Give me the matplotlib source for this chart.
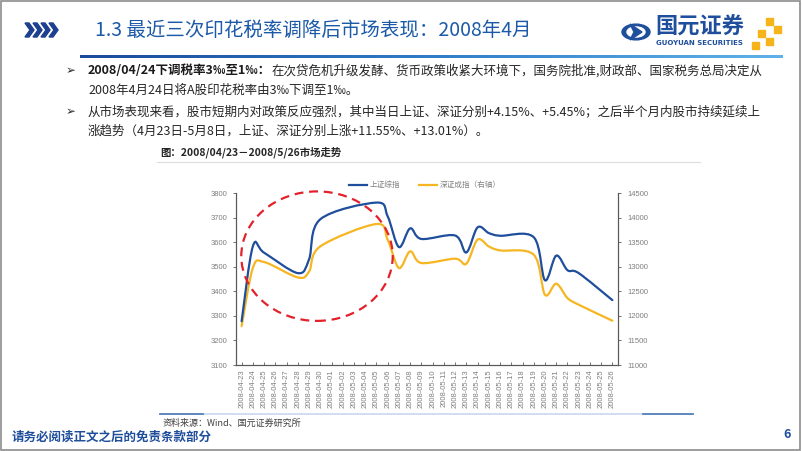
import numpy as np
import pandas as pd
import matplotlib
matplotlib.use('Agg')
import matplotlib.pyplot as plt
from matplotlib.path import Path
from matplotlib.patches import PathPatch, Ellipse, Polygon, Rectangle, Circle
from matplotlib.lines import Line2D

plt.rcParams['font.family'] = ['Noto Sans CJK SC', 'DejaVu Sans']

# 数据
trade_days = ['2008-04-23', '2008-04-24', '2008-04-25', '2008-04-28', '2008-04-29', '2008-04-30',
              '2008-05-05', '2008-05-06', '2008-05-07', '2008-05-08', '2008-05-09', '2008-05-12',
              '2008-05-13', '2008-05-14', '2008-05-15', '2008-05-16', '2008-05-19', '2008-05-20',
              '2008-05-21', '2008-05-22', '2008-05-23', '2008-05-26']
sh_index = [3278, 3583, 3557, 3474, 3530, 3693,
            3761, 3705, 3580, 3656, 3613, 3627,
            3558, 3660, 3637, 3626, 3620, 3445,
            3545, 3486, 3474, 3364]
sz_index = [11790, 12975, 13095, 12782, 12900, 13413,
            13869, 13550, 12974, 13312, 13075, 13163,
            13061, 13550, 13413, 13332, 13244, 12430,
            12654, 12363, 12227, 11901]
all_days = pd.date_range('2008-04-23', '2008-05-26').strftime('%Y-%m-%d').tolist()

W, H = 802, 451
def fx(x):
    return x / W
def fy(y):
    return 1 - y / H

BLUE = '#1f4e9c'
GOLD = '#f5b622'
GRAY = '#7f7f7f'

fig = plt.figure(figsize=(W / 100, H / 100), dpi=100)

# 外框
fig.patches.append(Rectangle((0.001, 0.002), 0.997, 0.996, transform=fig.transFigure,
                             fill=False, edgecolor='#8c8c8c', lw=1.2))

# 标题
for i in range(4):
    x0 = 25 + i * 8
    pts = [(x0, 23), (x0 + 4, 23), (x0 + 9, 30), (x0 + 4, 37), (x0, 37), (x0 + 5, 30)]
    fig.patches.append(Polygon([(fx(a), fy(b)) for a, b in pts], closed=True,
                               transform=fig.transFigure, color='#1d3f8f'))
fig.text(fx(95), fy(30), '1.3 最近三次印花税率调降后市场表现：2008年4月', fontsize=14,
         color='#1c5aa8', va='center', ha='left')

# 渐变线
gax = fig.add_axes([fx(80), fy(58), fx(783) - fx(80), 3.2 / H])
grad = np.linspace(0, 1, 256).reshape(1, -1)
cmap = matplotlib.colors.LinearSegmentedColormap.from_list('g', ['#1b4a9a', '#2f7cc8', '#5fb2e8'])
gax.imshow(grad, aspect='auto', cmap=cmap)
gax.axis('off')

# 标志
fig.patches.append(Circle((fx(636), fy(32)), 14 / W, transform=fig.transFigure, color=BLUE))
fig.patches.append(Circle((fx(636), fy(32)), 9 / W, transform=fig.transFigure, color='white'))
fig.patches.append(Polygon([(fx(a), fy(b)) for a, b in [(630, 24), (642, 32), (630, 40), (634, 32)]],
                           transform=fig.transFigure, color=BLUE))
fig.text(fx(655), fy(27), '国元证券', fontsize=16, fontweight='bold', color=BLUE, va='center')
fig.text(fx(656), fy(43), 'GUOYUAN SECURITIES', fontsize=5, fontweight='bold', color=BLUE,
         va='center', family=['DejaVu Sans'])
for a, b in [(766, 18), (774, 26), (758, 30), (766, 38), (752, 42)]:
    fig.patches.append(Rectangle((fx(a), fy(b + 7)), 7 / W, 7 / H, transform=fig.transFigure,
                                 color='#f4b41a'))

# 正文
def bullet(y):
    fig.text(fx(66), fy(y), '➢', fontsize=8.5, va='center', family=['DejaVu Sans'], color='#262626')

bullet(71)
t1 = fig.text(fx(88), fy(71), '2008/04/24下调税率3‰至1‰：', fontsize=9, fontweight='bold',
              va='center', color='#1a1a1a')
plt.annotate('在次贷危机升级发酵、货币政策收紧大环境下，国务院批准,财政部、国家税务总局决定从',
             xy=(1, 0.5), xycoords=t1, fontsize=9, va='center', ha='left', color='#262626',
             annotation_clip=False)
fig.text(fx(88), fy(90), '2008年4月24日将A股印花税率由3‰下调至1‰。', fontsize=9, va='center',
         color='#262626')
bullet(112)
fig.text(fx(88), fy(112), '从市场表现来看，股市短期内对政策反应强烈，其中当日上证、深证分别+4.15%、+5.45%；之后半个月内股市持续延续上',
         fontsize=9, va='center', color='#262626')
fig.text(fx(88), fy(131), '涨趋势（4月23日-5月8日，上证、深证分别上涨+11.55%、+13.01%）。', fontsize=9,
         va='center', color='#262626')
fig.text(fx(160), fy(152), '图：2008/04/23－2008/5/26市场走势', fontsize=7.5, fontweight='bold',
         va='center', color='#262626')

fig.add_artist(Line2D([fx(157), fx(700)], [fy(162), fy(162)], color='#dcdcdc', lw=0.8))
fig.add_artist(Line2D([fx(160), fx(693)], [fy(414), fy(414)], color='#c9d8ec', lw=1.2))
fig.add_artist(Line2D([fx(160), fx(203)], [fy(414), fy(414)], color='#4a78b5', lw=1.2))
fig.add_artist(Line2D([fx(643), fx(693)], [fy(414), fy(414)], color='#4a78b5', lw=1.2))
fig.text(fx(163), fy(423), '资料来源：Wind、国元证券研究所', fontsize=6.5, va='center', color='#404040')

# 页脚
fig.text(fx(12), fy(437), '请务必阅读正文之后的免责条款部分', fontsize=9, fontweight='bold',
         va='center', color='#1f4e9c')
fig.text(fx(783), fy(434), '6', fontsize=9, fontweight='bold', va='center', color='#1f4e9c')

# 图表
ax = fig.add_axes([fx(236), fy(365), (618 - 236) / W, 172 / H])
ax2 = ax.twinx()

start = pd.Timestamp(all_days[0])
xd = (pd.to_datetime(trade_days) - start).days.values.astype(float)


def smooth_path(x, y):
    pts = np.column_stack([x, y]).astype(float)
    n = len(pts)
    verts = [pts[0]]
    codes = [Path.MOVETO]
    for i in range(n - 1):
        p0 = pts[i - 1] if i > 0 else pts[i]
        p1 = pts[i]
        p2 = pts[i + 1]
        p3 = pts[i + 2] if i + 2 < n else pts[i + 1]
        verts += [p1 + (p2 - p0) / 6, p2 - (p3 - p1) / 6, p2]
        codes += [Path.CURVE4] * 3
    return Path(verts, codes)


ax.add_patch(PathPatch(smooth_path(xd, sh_index), fill=False, edgecolor=BLUE, lw=1.6,
                       capstyle='round', zorder=3))
ax2.add_patch(PathPatch(smooth_path(xd, sz_index), fill=False, edgecolor=GOLD, lw=1.6,
                        capstyle='round', zorder=2))

ax.set_xlim(-0.5, len(all_days) - 0.5)
ax.set_ylim(3100, 3800)
ax.set_yticks(range(3100, 3801, 100))
ax2.set_ylim(11000, 14500)
ax2.set_yticks(range(11000, 14501, 500))

ax.set_xticks(range(len(all_days)))
ax.set_xticklabels(all_days, rotation=90, family=['Liberation Sans'], fontsize=5.5, color=GRAY)
ax.tick_params(axis='x', direction='in', length=2, width=0.6, color='#595959', pad=3)
ax.tick_params(axis='y', direction='out', length=2.5, width=0.6, color='#595959',
               labelsize=5.5, labelcolor=GRAY, pad=4)
ax2.tick_params(axis='y', direction='out', length=2.5, width=0.6, color='#595959',
                labelsize=5.5, labelcolor=GRAY, pad=4)
for lab in ax.get_yticklabels() + ax2.get_yticklabels():
    lab.set_family(['Liberation Sans'])

for a in (ax, ax2):
    a.spines['top'].set_visible(False)
    for s in ('left', 'right', 'bottom'):
        a.spines[s].set_color('#595959')
        a.spines[s].set_linewidth(0.8)
ax.set_zorder(ax2.get_zorder() + 1)
ax.patch.set_visible(False)

handles = [Line2D([], [], color=BLUE, lw=1.6), Line2D([], [], color=GOLD, lw=1.6)]
ax.legend(handles, ['上证综指', '深证成指（右轴）'], loc='center', bbox_to_anchor=(0.495, 1.045),
          ncol=2, frameon=False, fontsize=5.5, labelcolor=GRAY, handlelength=2.3,
          columnspacing=2.5, handletextpad=0.4)

ax.add_patch(Ellipse((6.71, 3543), 13.48, 527, fill=False, edgecolor='#e3212b', lw=1.6,
                     linestyle=(0, (4, 2.6)), zorder=5, clip_on=False))

fig.savefig('out.png', dpi=100)
